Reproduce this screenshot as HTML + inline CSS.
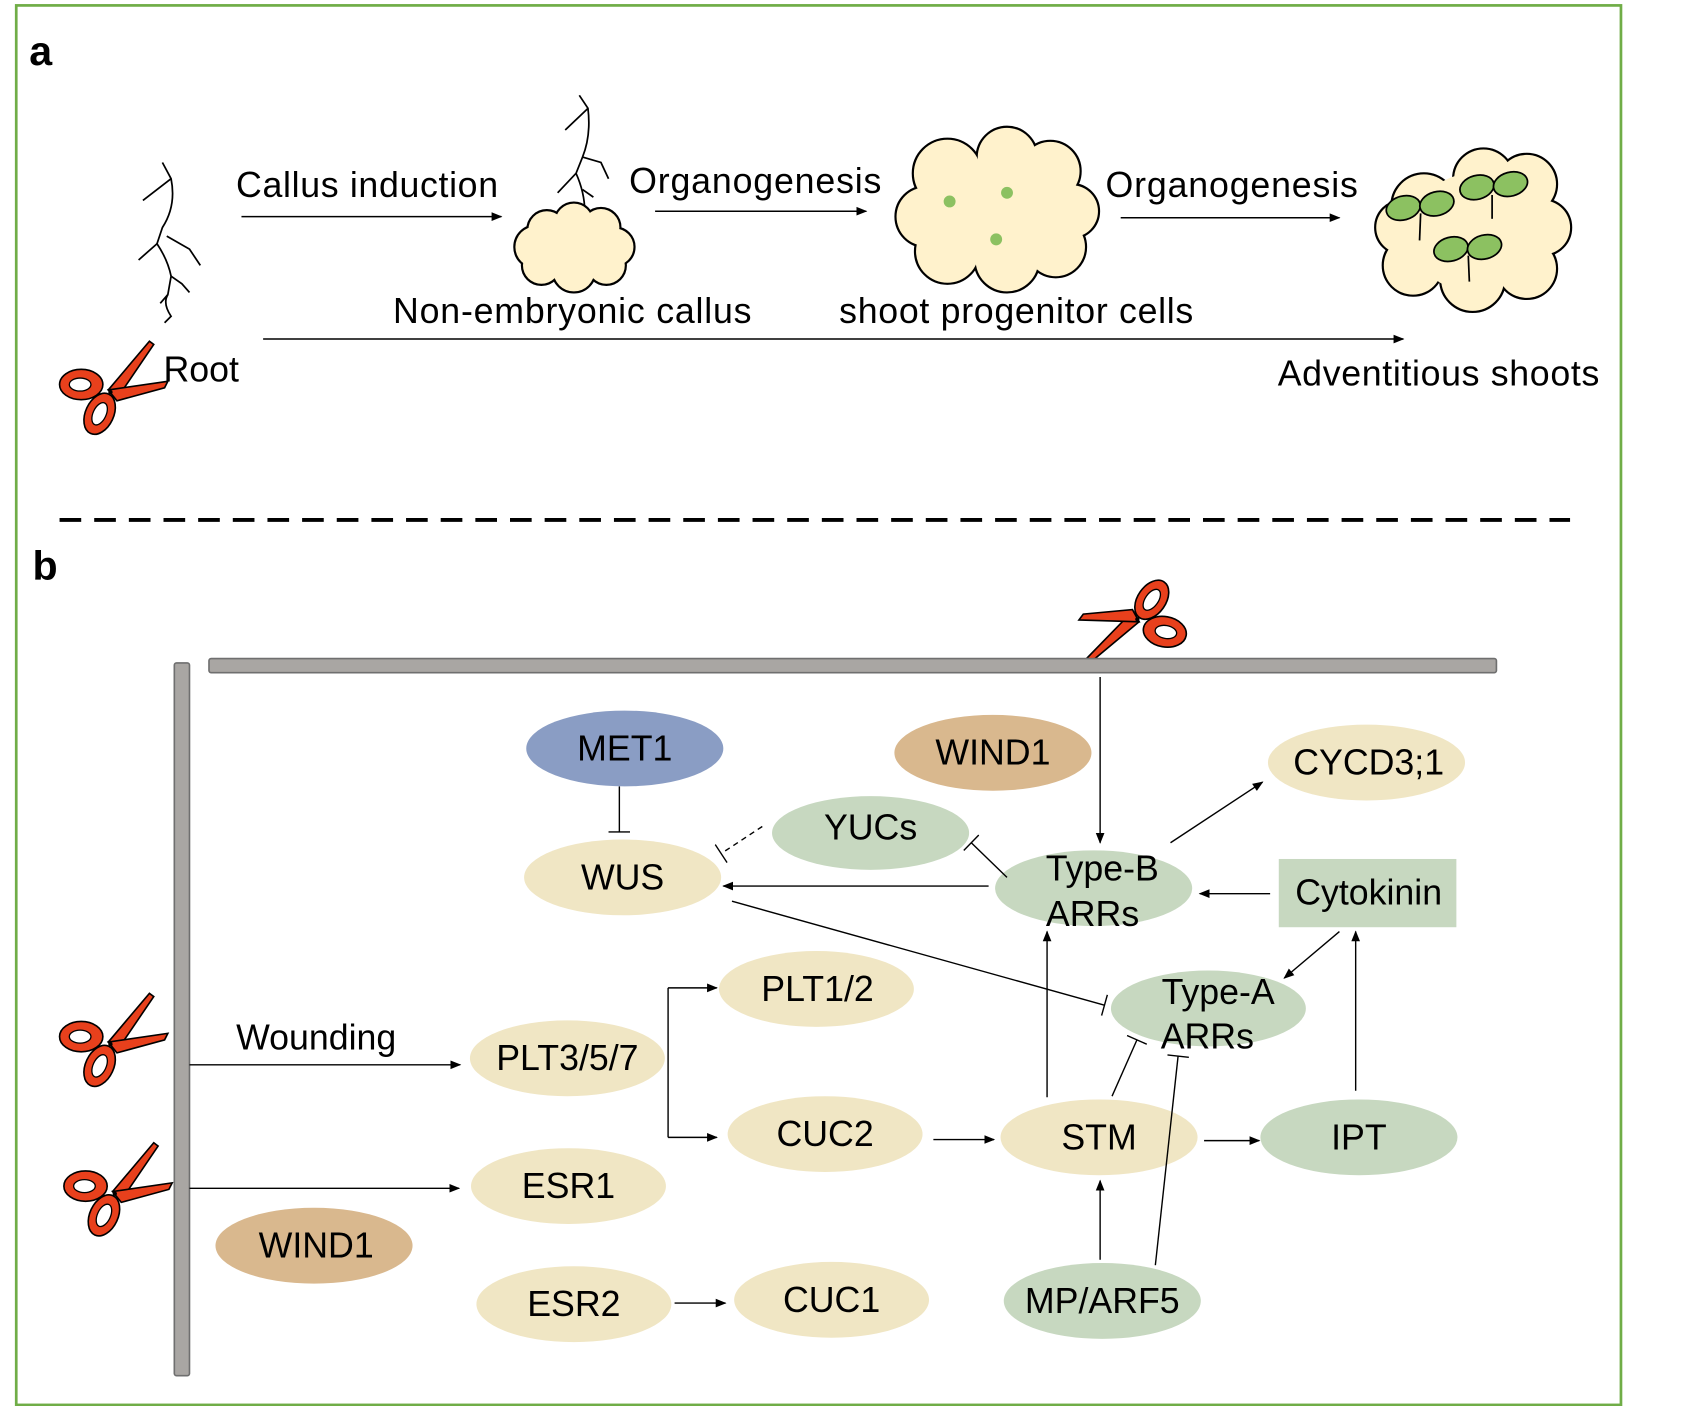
<!DOCTYPE html>
<html><head><meta charset="utf-8"><style>
html,body{margin:0;padding:0;background:#fff;}
svg{display:block;}
text{font-family:"Liberation Sans",Arial,sans-serif;fill:#000;}
</style></head><body>
<svg width="1700" height="1406" viewBox="0 0 1570 1298" preserveAspectRatio="none" xmlns="http://www.w3.org/2000/svg">
<defs>
<marker id="ar" markerWidth="10" markerHeight="10" refX="9" refY="5" orient="auto" markerUnits="userSpaceOnUse"><path d="M0,1 L10,5 L0,9 z" fill="#000"/></marker>
<marker id="tb" markerWidth="4" markerHeight="20" refX="2" refY="10" orient="auto" markerUnits="userSpaceOnUse"><path d="M2,0 L2,20" stroke="#000" stroke-width="1.3"/></marker>
<g id="sc">
<path d="M0,0 L38,-45 L42,-42 L8,8 Z" fill="#e8401c" stroke="#000" stroke-width="1.5"/>
<path d="M0,0 L55,-8 L52,-2 L8,10 Z" fill="#e8401c" stroke="#000" stroke-width="1.5"/>
<ellipse cx="-25" cy="-5" rx="20" ry="14" fill="#e8401c" stroke="#000" stroke-width="1.5"/>
<ellipse cx="-26" cy="-5" rx="10" ry="6" fill="#fff" stroke="#000" stroke-width="1.2"/>
<ellipse cx="-8" cy="22" rx="13" ry="20" transform="rotate(25 -8 22)" fill="#e8401c" stroke="#000" stroke-width="1.5"/>
<ellipse cx="-8" cy="22" rx="6" ry="11" transform="rotate(25 -8 22)" fill="#fff" stroke="#000" stroke-width="1.2"/>
<circle cx="2" cy="2" r="2" fill="#000"/>
</g>
</defs>
<rect x="15" y="5" width="1482" height="1292" fill="#fff" stroke="#70ad47" stroke-width="2.5"/>
<text x="27" y="60" font-size="38" font-weight="bold">a</text>
<text x="30" y="535" font-size="38" font-weight="bold">b</text>
<line x1="55" y1="480" x2="1450" y2="480" stroke="#000" stroke-width="3.5" stroke-dasharray="20,12"/>

<g fill="none" stroke="#000" stroke-width="1.6">
<path d="M150,150 L158,165 Q163,190 150,210 L145,225 Q155,240 158,255 L155,272 Q150,280 158,292 L152,298"/>
<path d="M158,165 L132,185 M154,218 L175,230 L185,245 M145,225 L128,240 M158,255 L168,262 L175,270 M155,272 L148,280"/>
<path d="M535,88 L543,100 Q546,125 538,145 L532,160 Q540,178 540,195 M543,100 L522,120 M538,145 L555,150 L562,165 M532,160 L515,178 M538,175 L548,182"/>
</g>
<g stroke="#000" stroke-width="2">
<circle cx="495" cy="228" r="20"/><circle cx="505" cy="212" r="18"/><circle cx="530" cy="205" r="18"/><circle cx="555" cy="210" r="18"/><circle cx="568" cy="228" r="18"/><circle cx="560" cy="245" r="18"/><circle cx="530" cy="250" r="20"/><circle cx="500" cy="245" r="18"/>
</g>
<g fill="#fff2cc"><circle cx="495" cy="228" r="19"/><circle cx="505" cy="212" r="17"/><circle cx="530" cy="205" r="17"/><circle cx="555" cy="210" r="17"/><circle cx="568" cy="228" r="17"/><circle cx="560" cy="245" r="17"/><circle cx="530" cy="250" r="19"/><circle cx="500" cy="245" r="17"/><circle cx="530" cy="228" r="30"/></g>
<g stroke="#000" stroke-width="2">
<circle cx="875" cy="160" r="32"/><circle cx="930" cy="145" r="28"/><circle cx="970" cy="158" r="28"/><circle cx="990" cy="195" r="25"/><circle cx="975" cy="228" r="28"/><circle cx="930" cy="240" r="30"/><circle cx="875" cy="232" r="30"/><circle cx="855" cy="200" r="28"/>
<circle cx="1315" cy="190" r="30"/><circle cx="1370" cy="165" r="28"/><circle cx="1410" cy="170" r="28"/><circle cx="1425" cy="210" r="26"/><circle cx="1410" cy="248" r="28"/><circle cx="1360" cy="258" r="30"/><circle cx="1305" cy="245" r="28"/><circle cx="1295" cy="210" r="25"/>
</g>
<g fill="#fff2cc">
<circle cx="875" cy="160" r="31"/><circle cx="930" cy="145" r="27"/><circle cx="970" cy="158" r="27"/><circle cx="990" cy="195" r="24"/><circle cx="975" cy="228" r="27"/><circle cx="930" cy="240" r="29"/><circle cx="875" cy="232" r="29"/><circle cx="855" cy="200" r="27"/><circle cx="920" cy="195" r="50"/>
<circle cx="1315" cy="190" r="29"/><circle cx="1370" cy="165" r="27"/><circle cx="1410" cy="170" r="27"/><circle cx="1425" cy="210" r="25"/><circle cx="1410" cy="248" r="27"/><circle cx="1360" cy="258" r="29"/><circle cx="1305" cy="245" r="27"/><circle cx="1295" cy="210" r="24"/><circle cx="1360" cy="215" r="55"/>
</g>
<g fill="#8cc161"><circle cx="877" cy="186" r="5.5"/><circle cx="930" cy="178" r="5.5"/><circle cx="920" cy="221" r="5.5"/></g>
<g stroke="#000" stroke-width="1.6" fill="#8cc161">
<ellipse cx="1296" cy="192" rx="16" ry="11" transform="rotate(-15 1296 192)"/><ellipse cx="1327" cy="188" rx="16" ry="11" transform="rotate(-15 1327 188)"/><path d="M1312,197 L1311,222" fill="none"/>
<ellipse cx="1364" cy="173" rx="16" ry="11" transform="rotate(-15 1364 173)"/><ellipse cx="1395" cy="170" rx="16" ry="11" transform="rotate(-15 1395 170)"/><path d="M1378,180 L1378,202" fill="none"/>
<ellipse cx="1340" cy="230" rx="16" ry="11" transform="rotate(-15 1340 230)"/><ellipse cx="1371" cy="228" rx="16" ry="11" transform="rotate(-15 1371 228)"/><path d="M1356,236 L1357,260" fill="none"/>
</g>
<g stroke="#000" stroke-width="1.4" marker-end="url(#ar)">
<line x1="223" y1="200" x2="463" y2="200"/><line x1="605" y1="195" x2="800" y2="195"/><line x1="1035" y1="201" x2="1237" y2="201"/><line x1="243" y1="313" x2="1296" y2="313"/>
</g>
<g font-size="33">
<text x="218" y="182" textLength="242">Callus induction</text><text x="581" y="178" textLength="233">Organogenesis</text><text x="1021" y="182" textLength="233">Organogenesis</text>
<text x="363" y="298" textLength="331">Non-embryonic callus</text><text x="775" y="298" textLength="327">shoot progenitor cells</text>
<text x="151" y="352">Root</text><text x="1180" y="356" textLength="297">Adventitious shoots</text>
</g>
<use href="#sc" x="100" y="360"/>
<g transform="translate(1052,574) rotate(190)"><use href="#sc"/></g>
<use href="#sc" x="100" y="962"/>
<use href="#sc" x="104" y="1100"/>

<rect x="161" y="612" width="14" height="658" fill="#a9a6a3" stroke="#6f6f6f" stroke-width="1.5" rx="2"/>
<rect x="193" y="608" width="1189" height="13" fill="#a9a6a3" stroke="#6f6f6f" stroke-width="1.5" rx="2"/>

<g>
<ellipse cx="577" cy="691" rx="91" ry="35" fill="#8a9dc4"/>
<ellipse cx="917" cy="695" rx="91" ry="35" fill="#d9b88e"/>
<ellipse cx="1262" cy="704" rx="91" ry="35" fill="#f0e6c4"/>
<ellipse cx="804" cy="769" rx="91" ry="34" fill="#c7d8c0"/>
<ellipse cx="575" cy="810" rx="91" ry="35" fill="#f0e6c4"/>
<ellipse cx="1010" cy="820" rx="91" ry="35" fill="#c7d8c0"/>
<rect x="1181" y="793" width="164" height="63" fill="#c7d8c0"/>
<ellipse cx="754" cy="913" rx="90" ry="35" fill="#f0e6c4"/>
<ellipse cx="1116" cy="931" rx="90" ry="35" fill="#c7d8c0"/>
<ellipse cx="524" cy="977" rx="90" ry="35" fill="#f0e6c4"/>
<ellipse cx="762" cy="1047" rx="90" ry="35" fill="#f0e6c4"/>
<ellipse cx="1015" cy="1050" rx="91" ry="35" fill="#f0e6c4"/>
<ellipse cx="1255" cy="1050" rx="91" ry="35" fill="#c7d8c0"/>
<ellipse cx="525" cy="1095" rx="90" ry="35" fill="#f0e6c4"/>
<ellipse cx="290" cy="1150" rx="91" ry="35" fill="#d9b88e"/>
<ellipse cx="530" cy="1204" rx="90" ry="35" fill="#f0e6c4"/>
<ellipse cx="768" cy="1200" rx="90" ry="35" fill="#f0e6c4"/>
<ellipse cx="1018" cy="1201" rx="91" ry="35" fill="#c7d8c0"/>
</g>
<g font-size="33" text-anchor="middle">
<text x="577" y="702">MET1</text><text x="917" y="706">WIND1</text><text x="1264" y="715">CYCD3;1</text>
<text x="804" y="775">YUCs</text><text x="575" y="821">WUS</text>
<text x="1018" y="813">Type-B</text><text x="1009" y="855">ARRs</text>
<text x="1264" y="835">Cytokinin</text>
<text x="755" y="924">PLT1/2</text><text x="1125" y="927">Type-A</text><text x="1115" y="968">ARRs</text>
<text x="524" y="988">PLT3/5/7</text><text x="762" y="1058">CUC2</text><text x="1015" y="1061">STM</text><text x="1255" y="1061">IPT</text>
<text x="525" y="1106">ESR1</text><text x="292" y="1161">WIND1</text><text x="530" y="1215">ESR2</text><text x="768" y="1211">CUC1</text><text x="1018" y="1212">MP/ARF5</text>
<text x="292" y="969">Wounding</text>
</g>
<g stroke="#000" stroke-width="1.3" fill="none">
<g marker-end="url(#ar)">
<line x1="1016" y1="625" x2="1016" y2="778"/>
<line x1="1081" y1="778" x2="1166" y2="722"/>
<line x1="913" y1="818" x2="668" y2="818"/>
<line x1="1173" y1="825" x2="1108" y2="825"/>
<line x1="1237" y1="860" x2="1186" y2="903"/>
<line x1="1252" y1="1007" x2="1252" y2="860"/>
<line x1="967" y1="1013" x2="967" y2="860"/>
<line x1="1016" y1="1163" x2="1016" y2="1090"/>
<line x1="1112" y1="1053" x2="1163" y2="1053"/>
<line x1="862" y1="1052" x2="918" y2="1052"/>
<line x1="617" y1="912" x2="662" y2="912"/>
<line x1="617" y1="1050" x2="662" y2="1050"/>
<line x1="175" y1="983" x2="425" y2="983"/>
<line x1="175" y1="1097" x2="424" y2="1097"/>
<line x1="623" y1="1203" x2="670" y2="1203"/>
</g>
<line x1="617" y1="912" x2="617" y2="1050"/>
<g marker-end="url(#tb)">
<line x1="930" y1="810" x2="897" y2="778"/>
<line x1="704" y1="763" x2="666" y2="788" stroke-dasharray="5,4"/>
<line x1="572" y1="726" x2="572" y2="768"/>
<line x1="676" y1="832" x2="1020" y2="928"/>
<line x1="1027" y1="1012" x2="1050" y2="960"/>
<line x1="1067" y1="1168" x2="1088" y2="975"/>
</g>
</g>
</svg>
</body></html>
